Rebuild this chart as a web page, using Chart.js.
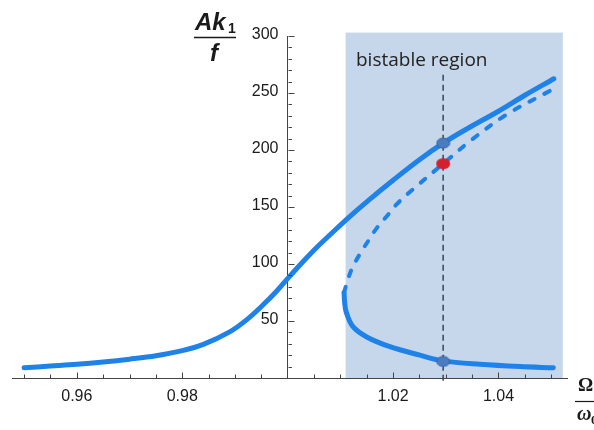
<!DOCTYPE html>
<html>
<head>
<meta charset="utf-8">
<script src="https://cdn.jsdelivr.net/npm/chart.js@4.4.1/dist/chart.umd.min.js"></script>
<style>
  html, body { margin: 0; padding: 0; background: #fff; }
</style>
</head>
<body>
<canvas id="response_chart" width="594" height="430"></canvas>
<script>
// 軸の範囲と目盛
const xRange = [0.9477, 1.053];
const yRange = [0, 300];
const xTickValues = [0.96, 0.98, 1.02, 1.04];
const yTickValues = [50, 100, 150, 200, 250, 300];

// 双安定領域(Ω/ω0)
const bistableRange = [1.011, 1.0522];
const bistableTop = 303;

// 上側の安定解
const upperOmega = [0.950, 0.955, 0.960, 0.965, 0.970, 0.975, 0.980, 0.984, 0.989, 0.9922, 0.9953, 0.9978, 1.0002, 1.0029, 1.0055, 1.008, 1.0115, 1.0155, 1.020, 1.025, 1.0295, 1.034, 1.040, 1.045, 1.0505];
const upperAmp   = [9, 10.5, 12, 14, 16.5, 19.5, 24, 29.5, 40.5, 51, 64, 75.7, 88.3, 102, 114.5, 125.4, 140.5, 156.5, 173.5, 191.5, 206, 218.5, 234, 248, 262.5];

// 不安定解(破線)
const unstableOmega = [1.0107, 1.0114, 1.0123, 1.0140, 1.0154, 1.0169, 1.0190, 1.0206, 1.0229, 1.0295, 1.0352, 1.0415, 1.0498];
const unstableAmp   = [75, 86, 97, 111, 121, 131.5, 143, 152, 162, 188, 210, 231, 252];

// 下側の安定解
const lowerOmega = [1.0107, 1.0108, 1.0111, 1.0124, 1.0150, 1.0194, 1.0251, 1.0295, 1.0365, 1.0441, 1.0504];
const lowerAmp   = [75, 67, 58, 45, 36, 27.5, 20, 15, 12, 10, 9];

// 注目する周波数と縦の破線
const markerOmega = 1.0295;
const markerLineAmp = [266, -6];
const stableDotAmp = [206, 14.5];
const unstableDotAmp = [188];

const lineColor = '#1f82e8';
const axisColor = '#444';
const textColor = '#1a1a1a';
const tickFont = '16px "Liberation Sans", Arial, sans-serif';

// x,y の配列を点の配列に変換
function toPoints(xs, ys) {
    return xs.map((x, i) => ({ x: x, y: ys[i] }));
}

// 楕円のマーカー画像を作成
function ellipseMarker(w, h, fill, stroke) {
    const c = document.createElement('canvas');
    c.width = w + 2;
    c.height = h + 2;
    const g = c.getContext('2d');
    g.beginPath();
    g.ellipse(c.width / 2, c.height / 2, w / 2, h / 2, 0, 0, Math.PI * 2);
    g.fillStyle = fill;
    g.fill();
    if (stroke) {
        g.lineWidth = 1;
        g.strokeStyle = stroke;
        g.stroke();
    }
    return c;
}

// 双安定領域の背景
const bistableShade = {
    id: 'bistableShade',
    beforeDraw(chart) {
        const { ctx, scales: { x, y } } = chart;
        const left = x.getPixelForValue(bistableRange[0]);
        const right = x.getPixelForValue(bistableRange[1]);
        const top = y.getPixelForValue(bistableTop);
        const bottom = y.getPixelForValue(yRange[0]);
        ctx.save();
        ctx.fillStyle = '#c6d7eb';
        ctx.fillRect(left, top, right - left, bottom - top);
        ctx.restore();
    }
};

// 内向きの目盛線(主・副)と縦軸の目盛ラベル
const tickMarks = {
    id: 'tickMarks',
    afterDatasetsDraw(chart) {
        const { ctx, scales: { x, y } } = chart;
        const x0 = Math.round(x.getPixelForValue(1.0)) + 0.5;
        const y0 = Math.round(y.getPixelForValue(0)) + 0.5;
        ctx.save();
        ctx.strokeStyle = axisColor;
        ctx.lineWidth = 1;
        ctx.beginPath();
        // x 軸: 0.005 刻み
        for (let i = 190; i <= 210; i++) {
            if (i === 200) continue;
            const px = Math.round(x.getPixelForValue(i * 0.005)) + 0.5;
            const len = (i % 4 === 0) ? 6 : 4;
            ctx.moveTo(px, y0);
            ctx.lineTo(px, y0 - len);
        }
        // y 軸: 10 刻み
        for (let j = 1; j <= 30; j++) {
            const py = Math.round(y.getPixelForValue(j * 10)) + 0.5;
            const len = (j % 5 === 0) ? 6 : 3.5;
            ctx.moveTo(x0, py);
            ctx.lineTo(x0 + len, py);
        }
        ctx.stroke();

        // 縦軸のラベル(軸が中央にあるため自前で描画)
        ctx.fillStyle = textColor;
        ctx.font = tickFont;
        ctx.textAlign = 'right';
        ctx.textBaseline = 'middle';
        yTickValues.forEach(v => {
            ctx.fillText(String(v), x0 - 10, y.getPixelForValue(v) - 1);
        });
        ctx.restore();
    }
};

// 軸タイトルと注記
const titles = {
    id: 'titles',
    afterDraw(chart) {
        const { ctx } = chart;
        ctx.save();
        ctx.fillStyle = textColor;
        ctx.strokeStyle = textColor;

        // 縦軸: Ak1 / f
        ctx.textBaseline = 'alphabetic';
        ctx.textAlign = 'left';
        ctx.font = 'italic bold 24px "Liberation Sans", Arial, sans-serif';
        ctx.fillText('Ak', 195, 30);
        ctx.font = 'bold 14px "Liberation Sans", Arial, sans-serif';
        ctx.fillText('1', 228, 33);
        ctx.lineWidth = 1.5;
        ctx.beginPath();
        ctx.moveTo(194, 37.5);
        ctx.lineTo(236, 37.5);
        ctx.stroke();
        ctx.font = 'italic bold 24px "Liberation Sans", Arial, sans-serif';
        ctx.textAlign = 'center';
        ctx.fillText('f', 214, 61);

        // 横軸: Ω / ω0
        ctx.textAlign = 'left';
        ctx.font = 'bold 19px "Liberation Serif", "Times New Roman", serif';
        ctx.fillText('Ω', 578, 391);
        ctx.lineWidth = 1.2;
        ctx.beginPath();
        ctx.moveTo(575, 401.5);
        ctx.lineTo(594, 401.5);
        ctx.stroke();
        ctx.font = 'italic bold 20px "Liberation Serif", "Times New Roman", serif';
        ctx.fillText('ω', 577, 420);
        ctx.font = 'bold 13px "Liberation Serif", "Times New Roman", serif';
        ctx.fillText('0', 591, 424);

        // 注記
        ctx.font = '19px "Open Sans", "Noto Sans", sans-serif';
        ctx.fillStyle = '#222';
        ctx.fillText('bistable region', 356, 66, 132);
        ctx.restore();
    }
};

const canvas = document.getElementById('response_chart');
const ctx = canvas.getContext('2d');

new Chart(ctx, {
    type: 'scatter',
    data: {
        datasets: [
            {
                label: 'stable points',
                data: toPoints([markerOmega, markerOmega], stableDotAmp),
                pointStyle: ellipseMarker(13, 10, '#4a7cbf', '#3a63a0'),
                pointRadius: 6,
                showLine: false
            },
            {
                label: 'unstable point',
                data: toPoints([markerOmega], unstableDotAmp),
                pointStyle: ellipseMarker(14, 11, '#d3202e', null),
                pointRadius: 6,
                showLine: false
            },
            {
                label: 'marker line',
                data: toPoints([markerOmega, markerOmega], markerLineAmp),
                showLine: true,
                borderColor: '#36465a',
                borderWidth: 1.5,
                borderDash: [6, 4],
                pointRadius: 0,
                clip: false
            },
            {
                label: 'unstable',
                data: toPoints(unstableOmega, unstableAmp),
                showLine: true,
                borderColor: lineColor,
                borderWidth: 4,
                borderDash: [6, 11],
                borderCapStyle: 'round',
                tension: 0.35,
                pointRadius: 0
            },
            {
                label: 'lower',
                data: toPoints(lowerOmega, lowerAmp),
                showLine: true,
                borderColor: lineColor,
                borderWidth: 5,
                borderCapStyle: 'round',
                borderJoinStyle: 'round',
                tension: 0.35,
                pointRadius: 0
            },
            {
                label: 'upper',
                data: toPoints(upperOmega, upperAmp),
                showLine: true,
                borderColor: lineColor,
                borderWidth: 5,
                borderCapStyle: 'round',
                borderJoinStyle: 'round',
                tension: 0.35,
                pointRadius: 0
            }
        ]
    },
    options: {
        responsive: false,
        animation: false,
        layout: {
            padding: { left: 12, right: 27, top: 36, bottom: 12 }
        },
        scales: {
            x: {
                type: 'linear',
                position: 'bottom',
                min: xRange[0],
                max: xRange[1],
                afterBuildTicks(scale) {
                    scale.ticks = xTickValues.map(v => ({ value: v }));
                },
                afterFit(scale) {
                    scale.height = 40;
                },
                grid: { display: false },
                border: { display: true, color: axisColor, width: 1 },
                ticks: {
                    color: textColor,
                    padding: 1,
                    font: { family: '"Liberation Sans", Arial, sans-serif', size: 16 },
                    callback: v => v.toFixed(2)
                }
            },
            y: {
                type: 'linear',
                position: { x: 1.0 },
                min: yRange[0],
                max: yRange[1],
                afterBuildTicks(scale) {
                    scale.ticks = yTickValues.map(v => ({ value: v }));
                },
                grid: { display: false },
                border: { display: true, color: axisColor, width: 1 },
                ticks: { display: false }
            }
        },
        plugins: {
            legend: { display: false },
            tooltip: { enabled: false }
        }
    },
    plugins: [bistableShade, tickMarks, titles]
});
</script>
</body>
</html>
